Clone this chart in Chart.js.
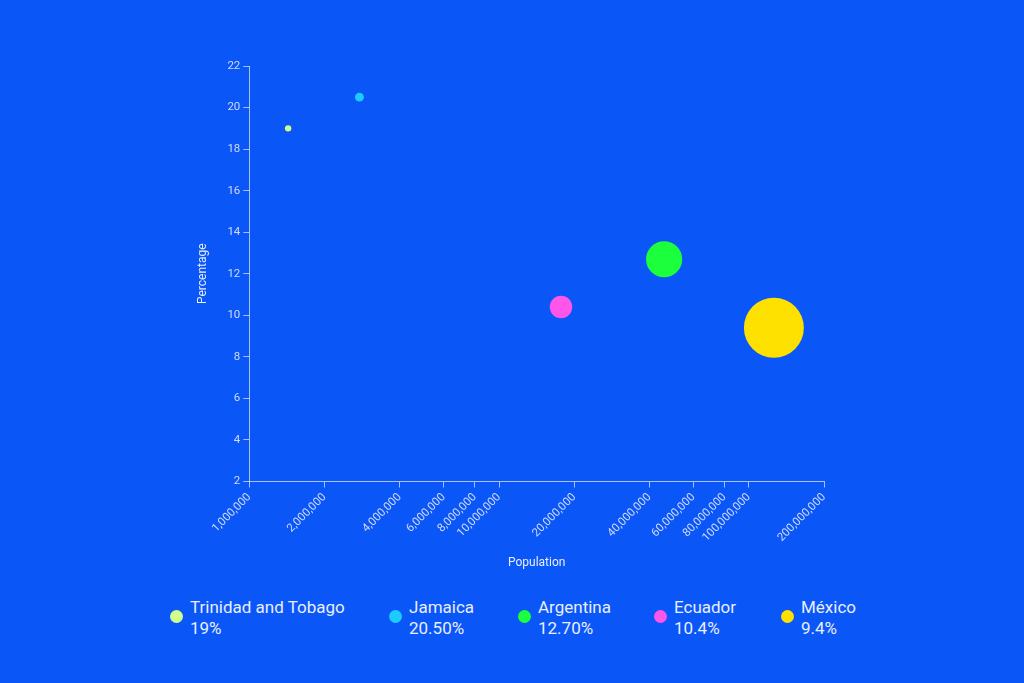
<!DOCTYPE html>
<html>
  <head>
    <meta charset="utf-8" />
    <title>Population vs Percentage</title>
    <script src="https://cdn.jsdelivr.net/npm/chart.js"></script>
    <style>
      body { margin: 0; background: #0b56f7; font-family: Roboto, sans-serif; }
      #wrap { position: absolute; left: 0; top: 0; width: 1024px; height: 588px; }
      #legend { position: absolute; left: 0; top: 597px; width: 1024px; height: 50px; }
      .item { position: absolute; top: 0; color: #e8eeff; font-size: 17px; line-height: 21px; white-space: nowrap; }
      .dot { position: absolute; left: -20px; top: 13px; width: 13px; height: 13px; border-radius: 50%; }
    </style>
  </head>
  <body>
    <div id="wrap"><canvas id="bubbleChart"></canvas></div>
    <div id="legend"></div>

    <script>
      // data
      var countries = ["Trinidad and Tobago", "Jamaica", "Argentina", "Ecuador", "México"];
      var population = [1430000, 2760000, 45800000, 17700000, 126000000];
      var percentage = [19, 20.5, 12.7, 10.4, 9.4];
      var percentLabels = ["19%", "20.50%", "12.70%", "10.4%", "9.4%"];
      var colors = ["#d2ff8c", "#1ecbff", "#1cff3c", "#ff55ea", "#ffe100"];
      var xTicks = [1000000, 2000000, 4000000, 6000000, 8000000, 10000000,
        20000000, 40000000, 60000000, 80000000, 100000000, 200000000];
      var legendX = [190, 409, 538, 674, 801];

      var axisColor = "rgba(220, 230, 255, 0.75)";
      var tickColor = "#cfdbff";

      var datasets = countries.map(function (name, i) {
        return {
          label: name,
          data: [{ x: population[i], y: percentage[i] }],
          backgroundColor: colors[i],
          borderWidth: 0,
          radius: function (ctx) {
            var v = ctx.raw ? ctx.raw.x : 0;
            return Math.sqrt(v / 1000000) * 2.67;
          },
        };
      });

      var ctx = document.getElementById("bubbleChart").getContext("2d");
      var myChart = new Chart(ctx, {
        type: "bubble",
        data: { datasets: datasets },
        options: {
          responsive: true,
          maintainAspectRatio: false,
          animation: false,
          layout: { padding: { left: 192, right: 200, top: 66, bottom: 14 } },
          plugins: { legend: { display: false }, tooltip: { enabled: false } },
          scales: {
            x: {
              type: "logarithmic",
              min: 1000000,
              max: 200000000,
              afterBuildTicks: function (axis) {
                axis.ticks = xTicks.map(function (v) { return { value: v }; });
              },
              ticks: {
                color: tickColor,
                font: { family: "Roboto", size: 11.5 },
                minRotation: 45,
                maxRotation: 45,
                autoSkip: false,
                callback: function (v) { return Number(v).toLocaleString("en-US"); },
              },
              grid: { drawOnChartArea: false, color: axisColor, tickLength: 6 },
              border: { color: axisColor },
              title: {
                display: true,
                text: "Population",
                color: "#e8eeff",
                font: { family: "Roboto", size: 12 },
                padding: { top: 8 },
              },
            },
            y: {
              min: 2,
              max: 22,
              ticks: {
                stepSize: 2,
                color: tickColor,
                font: { family: "Roboto", size: 11.5 },
              },
              grid: { drawOnChartArea: false, color: axisColor, tickLength: 6 },
              border: { color: axisColor },
              title: {
                display: true,
                text: "Percentage",
                color: "#e8eeff",
                font: { family: "Roboto", size: 12 },
                padding: { bottom: 14 },
              },
            },
          },
        },
      });

      // HTML legend with two lines per entry
      var legend = document.getElementById("legend");
      countries.forEach(function (name, i) {
        var item = document.createElement("div");
        item.className = "item";
        item.style.left = legendX[i] + "px";
        item.innerHTML = '<span class="dot" style="background:' + colors[i] + '"></span>' +
          name + "<br>" + percentLabels[i];
        legend.appendChild(item);
      });
    </script>
  </body>
</html>
